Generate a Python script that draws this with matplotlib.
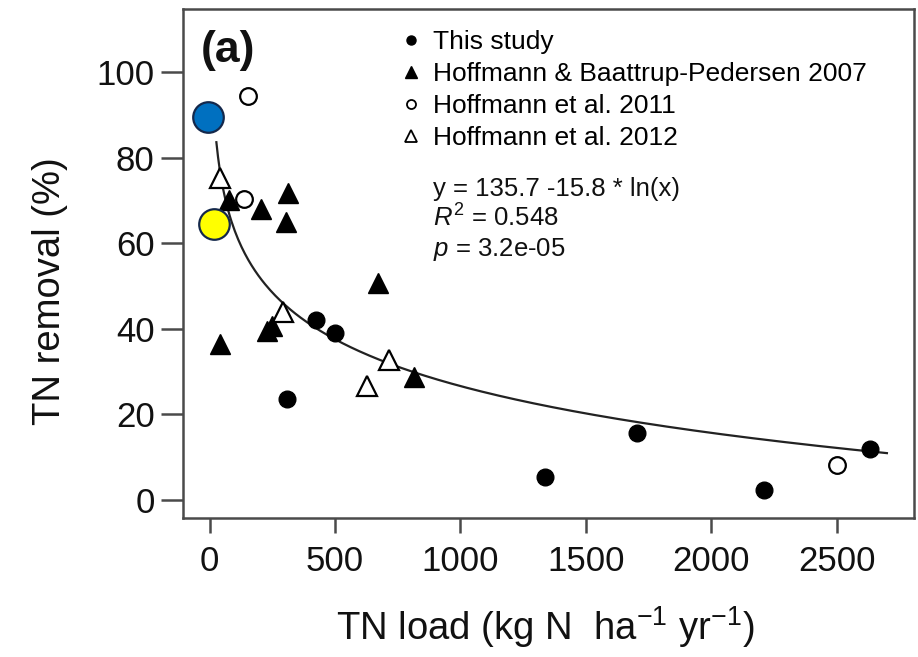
"""
TN removal vs TN load, panel (a)
"""
import numpy as np
import matplotlib
matplotlib.use("Agg")
import matplotlib.pyplot as plt
from matplotlib.lines import Line2D

plt.rcParams["font.family"] = ["Liberation Sans", "DejaVu Sans"]
plt.rcParams["mathtext.fontset"] = "custom"
plt.rcParams["mathtext.rm"] = "Liberation Sans"
plt.rcParams["mathtext.it"] = "Liberation Sans:italic"
plt.rcParams["mathtext.bf"] = "Liberation Sans:bold"
plt.rcParams["mathtext.default"] = "regular"

# --- data ---
THIS_X = [307, 424, 500, 1339, 1704, 2212, 2633]
THIS_Y = [23.6, 42.1, 39.0, 5.3, 15.6, 2.2, 11.9]

HB2007_X = [43, 78, 205, 228, 250, 304, 311, 673, 815]
HB2007_Y = [36.3, 70.1, 67.9, 39.5, 40.5, 64.9, 71.8, 50.7, 28.7]

H2011_X = [154, 138, 2500]
H2011_Y = [94.4, 70.4, 8.0]

H2012_X = [40, 291, 629, 715]
H2012_Y = [75.3, 43.8, 26.5, 32.6]

BLUE_X, BLUE_Y = [-5], [89.6]
YELLOW_X, YELLOW_Y = [16], [64.4]

FIT_A, FIT_B = 135.7, -15.8
FIT_RANGE = (27, 2700)

LEGEND_LABELS = ["This study", "Hoffmann & Baattrup-Pedersen 2007",
                 "Hoffmann et al. 2011", "Hoffmann et al. 2012"]
X_TICKS = [0, 500, 1000, 1500, 2000, 2500]
Y_TICKS = [0, 20, 40, 60, 80, 100]

W, H = 918, 657
fig = plt.figure(figsize=(W / 100, H / 100), dpi=100)
L, R, T, B = 182.5, 914, 9, 517.5
ax = fig.add_axes([L / W, 1 - B / H, (R - L) / W, (B - T) / H])

fit_x = np.linspace(*FIT_RANGE, 400)
ax.plot(fit_x, FIT_A + FIT_B * np.log(fit_x), color="#222222", lw=1.6, zorder=2)

ax.plot(THIS_X, THIS_Y, "o", ms=12, color="black", mec="black", zorder=3)
ax.plot(HB2007_X, HB2007_Y, "^", ms=15, color="black", mec="black", zorder=3)
ax.plot(H2011_X, H2011_Y, "o", ms=12, mfc="white", mec="black", mew=1.6, zorder=3)
ax.plot(H2012_X, H2012_Y, "^", ms=15, mfc="white", mec="black", mew=1.6, zorder=3)
ax.plot(BLUE_X, BLUE_Y, "o", ms=22, mfc="#0070C0", mec="#14284B", mew=1.6, zorder=4)
ax.plot(YELLOW_X, YELLOW_Y, "o", ms=22, mfc="#FFFF00", mec="#14284B", mew=1.6, zorder=4)

ax.set_xlim(-108, 2808)
ax.set_ylim(-4.2, 114.8)
ax.set_xticks(X_TICKS)
ax.set_yticks(Y_TICKS)

for s in ax.spines.values():
    s.set_color("#4a4a4a")
    s.set_linewidth(1.8)
ax.tick_params(axis="both", colors="#4a4a4a", labelcolor="#111111", labelsize=25, width=1.8)
ax.tick_params(axis="x", length=11, pad=9)
ax.tick_params(axis="y", length=16, pad=4)

ax.set_xlabel(r"TN load (kg N  ha$^{-1}$ yr$^{-1}$)", fontsize=27.5, color="#111111", va="baseline")
ax.xaxis.set_label_coords(0.496, -0.241)
ax.set_ylabel("TN removal (%)", fontsize=27.5, color="#111111", va="center")
ax.yaxis.set_label_coords(-0.181, 0.445)

ax.text((201 - L) / (R - L), (B - 62) / (B - T), "(a)", transform=ax.transAxes,
        fontsize=32, fontweight="bold", ha="left", va="baseline", color="#111111")

handles = [
    Line2D([], [], ls="none", marker="o", ms=6.5, color="black"),
    Line2D([], [], ls="none", marker="^", ms=8, color="black"),
    Line2D([], [], ls="none", marker="o", ms=6.5, mfc="white", mec="black", mew=1.3),
    Line2D([], [], ls="none", marker="^", ms=8, mfc="white", mec="black", mew=1.3),
]
ax.legend(handles, LEGEND_LABELS, loc="upper left",
          bbox_to_anchor=((400 - L) / (R - L), (B - 30) / (B - T)),
          frameon=False, fontsize=19, handlelength=0.8, handletextpad=0.45,
          labelspacing=0.3, borderpad=0, borderaxespad=0)

eq_lines = [r"y = 135.7 -15.8 * ln(x)", r"$\it{R}^2$ = 0.548", r"$\it{p}$ = 3.2e-05"]
for txt, base in zip(eq_lines, [196, 227, 256]):
    ax.text((433 - L) / (R - L), (B - base) / (B - T), txt, transform=ax.transAxes,
            fontsize=18.5, ha="left", va="baseline", color="#111111")

fig.savefig("out.png", dpi=100)
